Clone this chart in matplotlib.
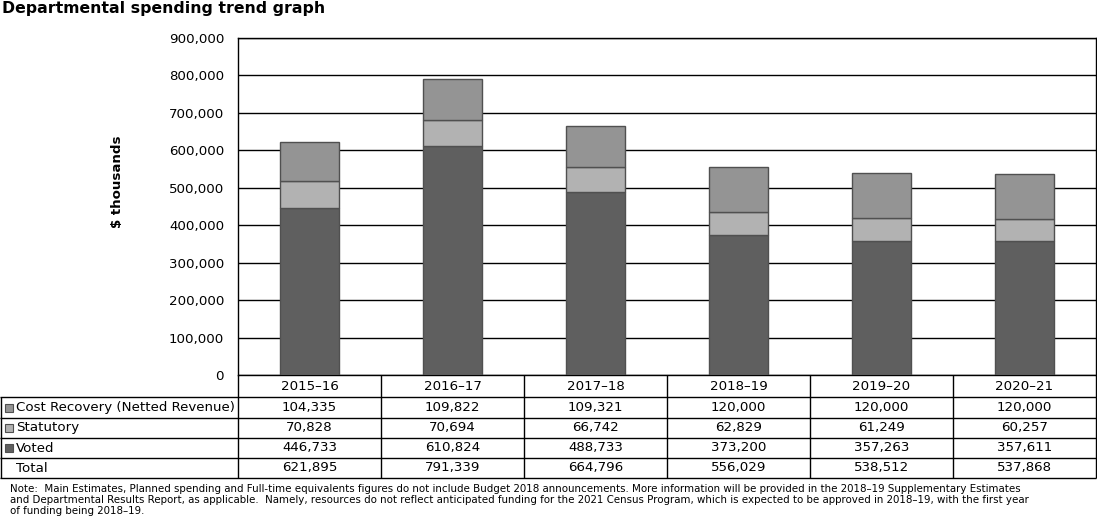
import numpy as np
import matplotlib.pyplot as plt

# données du graphique
years = ['2015\u201316', '2016\u201317', '2017\u201318', '2018\u201319', '2019\u201320', '2020\u201321']
cost_recovery = [104335, 109822, 109321, 120000, 120000, 120000]
statutory = [70828, 70694, 66742, 62829, 61249, 60257]
voted = [446733, 610824, 488733, 373200, 357263, 357611]
totals = [621895, 791339, 664796, 556029, 538512, 537868]
row_names = ['Cost Recovery (Netted Revenue)', 'Statutory', 'Voted', 'Total']
row_colors = ['#949494', '#b2b2b2', '#5f5f5f', None]

note = ('Note:  Main Estimates, Planned spending and Full-time equivalents figures do not include Budget 2018 announcements. '
        'More information will be provided in the 2018\u201319 Supplementary Estimates\n'
        'and Departmental Results Report, as applicable.  Namely, resources do not reflect anticipated funding for the '
        '2021 Census Program, which is expected to be approved in 2018\u201319, with the first year\n'
        'of funding being 2018\u201319.')

W, H = 1097, 523
fig = plt.figure(figsize=(W / 100, H / 100), dpi=100)
plt.rcParams['font.family'] = 'DejaVu Sans'
fs = 9.6

# zone du graphique
x0, x1 = 238, 1096
y_top, y_bot = 38, 375
ax = fig.add_axes([x0 / W, 1 - y_bot / H, (x1 - x0) / W, (y_bot - y_top) / H])

x = np.arange(len(years))
edge = '#505050'
ax.bar(x, voted, width=0.41, color='#5f5f5f', edgecolor=edge, linewidth=1, zorder=3)
ax.bar(x, statutory, width=0.41, bottom=voted, color='#b2b2b2', edgecolor=edge, linewidth=1, zorder=3)
bottom2 = np.array(voted) + np.array(statutory)
ax.bar(x, cost_recovery, width=0.41, bottom=bottom2, color='#949494', edgecolor=edge, linewidth=1, zorder=3)

ax.set_xlim(-0.5, len(years) - 0.5)
ax.set_ylim(0, 900000)
ax.set_yticks(np.arange(0, 900001, 100000))
ax.yaxis.set_major_formatter(plt.FuncFormatter(lambda v, p: f'{int(v):,}'))
ax.tick_params(axis='y', length=0, pad=10, labelsize=fs)
ax.set_xticks([])
ax.grid(axis='y', color='black', linewidth=1, zorder=0)
for s in ax.spines.values():
    s.set_color('black')
    s.set_linewidth(1)
ax.set_ylabel('$ thousands', fontsize=fs, fontweight='bold')
ax.yaxis.set_label_coords(-(x0 - 124) / (x1 - x0), (y_bot - 182) / (y_bot - y_top))

fig.text(2 / W, 1 - 9 / H, 'Departmental spending trend graph', fontsize=11.3, fontweight='bold',
         va='center', ha='left')

# tableau de données
tab = fig.add_axes([0, 0, 1, 1])
tab.set_xlim(0, W)
tab.set_ylim(H, 0)
tab.axis('off')
row_edges = [375, 397, 418, 438, 458, 478]
col_w = (x1 - x0) / len(years)
col_edges = [x0 + i * col_w for i in range(len(years) + 1)]

tab.hlines(row_edges[1:], 0, x1, color='black', linewidth=1)
tab.vlines(col_edges, row_edges[0], row_edges[-1], color='black', linewidth=1)
tab.vlines([0.5], row_edges[1], row_edges[-1], color='black', linewidth=1)

values = [cost_recovery, statutory, voted, totals]
for i, y in enumerate(years):
    tab.text(col_edges[i] + col_w / 2, (row_edges[0] + row_edges[1]) / 2, y,
             ha='center', va='center', fontsize=fs)
for r, name in enumerate(row_names):
    yc = (row_edges[r + 1] + row_edges[r + 2]) / 2
    if row_colors[r]:
        tab.plot(9, yc, marker='s', markersize=6, color=row_colors[r], markeredgecolor=edge, markeredgewidth=0.8)
    tab.text(16, yc, name, ha='left', va='center', fontsize=fs)
    for i, v in enumerate(values[r]):
        tab.text(col_edges[i] + col_w / 2, yc, f'{v:,}', ha='center', va='center', fontsize=fs)

tab.text(10, 484, note, ha='left', va='top', fontsize=7.4, linespacing=1.15)

fig.savefig('out.png', dpi=100)
